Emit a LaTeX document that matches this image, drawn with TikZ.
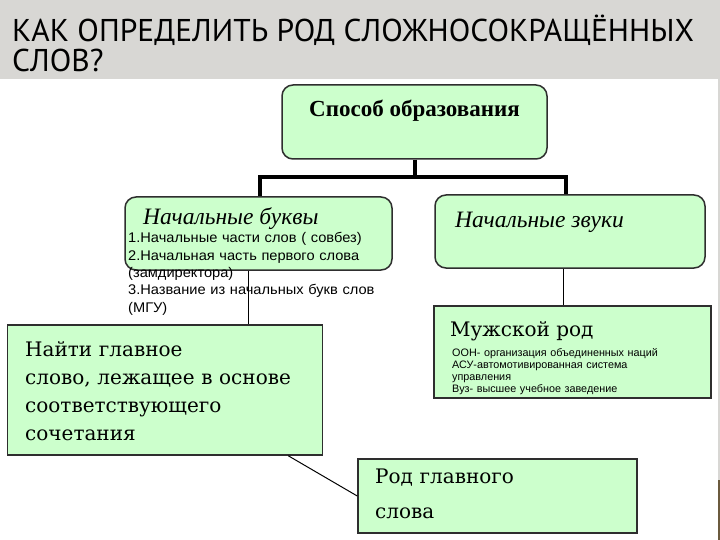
\documentclass[tikz,border=0pt]{standalone}
\usepackage{fontspec}
\setmainfont{DejaVu Serif}
\newfontfamily\titlefont{PT Sans}
\newfontfamily\arialfont[FakeStretch=1.045]{Liberation Sans}
\newfontfamily\smallarial{Liberation Sans}
\newfontfamily\timesfont{Liberation Serif}
\definecolor{boxgreen}{HTML}{CCFFCC}
\definecolor{boxline}{HTML}{2E2E2E}
\definecolor{slidegray}{HTML}{D8D7D4}
\definecolor{slidebrown}{HTML}{6B5A3E}

\begin{document}
\begin{tikzpicture}[x=1pt, y=-1pt,
    roundbox/.style={draw=boxline, line width=1.5pt, fill=boxgreen, rounded corners=11pt, inner sep=0pt},
    plainbox/.style={draw=boxline, line width=1.5pt, fill=boxgreen, inner sep=0pt},
    thickline/.style={draw=black, line width=4pt},
    thinline/.style={draw=black, line width=1pt},
    lbl/.style={anchor=base west, inner sep=0pt, align=left}]
    % slide background
    \fill[slidegray] (0,0) rectangle (720,540);
    \fill[white] (0,79) rectangle (718,540);
    \fill[slidebrown] (718,480) rectangle (720,540);
    \useasboundingbox (0,0) rectangle (720,540);
    % title
    \node[lbl, font=\titlefont\fontsize{31.5}{36}\selectfont] (title1) at (12,42) {КАК ОПРЕДЕЛИТЬ РОД СЛОЖНОСОКРАЩЁННЫХ};
    \node[lbl, font=\titlefont\fontsize{31.5}{36}\selectfont] (title2) at (12,72) {СЛОВ?};
    % boxes
    \node[roundbox, minimum width=265pt, minimum height=74pt] (sposob) at (414.5,122) {};
    \node[roundbox, minimum width=267pt, minimum height=73pt] (bukvy) at (258.5,233.5) {};
    \node[roundbox, minimum width=270pt, minimum height=73pt] (zvuki) at (570,231.5) {};
    \node[plainbox, minimum width=277pt, minimum height=92pt] (muzh) at (572.5,352) {};
    \node[plainbox, minimum width=315pt, minimum height=130pt] (naiti) at (165,390) {};
    \node[plainbox, minimum width=279pt, minimum height=74pt] (rod) at (497.5,496) {};
    % connectors
    \coordinate (fork) at (414.5,177);
    \draw[thickline] (sposob.south) -- (fork) -| ([xshift=1.5pt]bukvy.north);
    \draw[thickline] (fork) -| ([xshift=-4pt]zvuki.north);
    \draw[thinline] ([xshift=-10.5pt]bukvy.south) -- ([xshift=-10.5pt]bukvy.south |- naiti.north);
    \draw[thinline] ([xshift=-7pt]zvuki.south) -- ([xshift=-7pt]zvuki.south |- muzh.north);
    \draw[thinline] ([xshift=-35pt]naiti.south east) -- (rod.west);
    % texts
    \node[anchor=base, inner sep=0pt, font=\timesfont\bfseries\fontsize{23}{26}\selectfont] (sposobtxt) at (414.5,117) {Способ образования};
    \node[lbl, font=\timesfont\itshape\fontsize{23.5}{26}\selectfont] (bukvytxt) at (143,225) {Начальные буквы};
    \node[lbl, font=\timesfont\itshape\fontsize{23.5}{26}\selectfont] (zvukitxt) at (455,227) {Начальные звуки};
    \node[lbl, text width=270pt, font=\arialfont\fontsize{14}{17.3}\selectfont] (bukvylist) at (128,243) {
      1.Начальные части слов ( совбез)\\
      2.Начальная часть первого слова\\
      (замдиректора)\\
      3.Название из начальных букв слов\\
      (МГУ)};
    \node[lbl, font=\fontsize{20}{24}\selectfont] (muzhtxt) at (450,336) {Мужской род};
    \node[lbl, text width=255pt, font=\smallarial\fontsize{10.8}{12.3}\selectfont] (muzhlist) at (452,356) {
      ООН- организация объединенных наций\\
      АСУ-автомотивированная система\\
      управления\\
      Вуз- высшее учебное заведение};
    \node[lbl, text width=295pt, font=\fontsize{20}{28}\selectfont] (naititxt) at (25,356) {
      Найти главное\\
      слово, лежащее в основе\\
      соответствующего\\
      сочетания};
    \node[lbl, text width=250pt, font=\fontsize{20}{35}\selectfont] (rodtxt) at (375,483) {
      Род главного\\
      слова};
\end{tikzpicture}
\end{document}
